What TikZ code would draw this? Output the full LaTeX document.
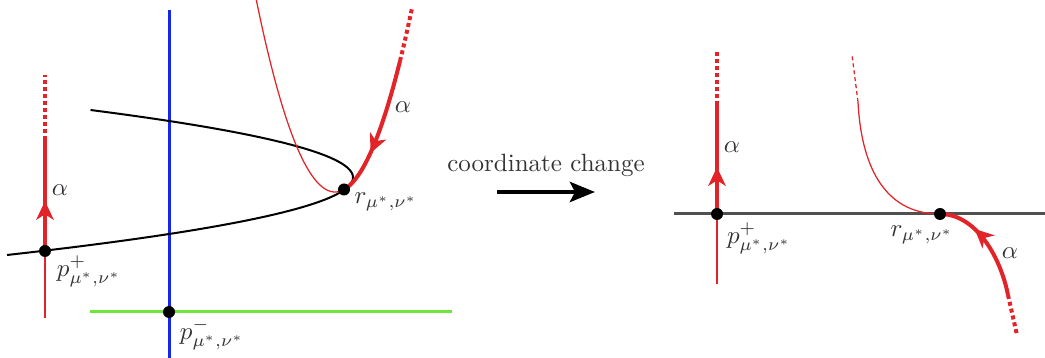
\documentclass[tikz,border=0pt]{standalone}
\usepackage{tikz}
\usetikzlibrary{arrows.meta,decorations.markings}
\definecolor{cred}{RGB}{226,36,40}
\definecolor{cblue}{RGB}{20,40,235}
\definecolor{cgreen}{RGB}{110,230,60}
\definecolor{caxis}{RGB}{80,80,80}
\tikzset{
  fixpt/.style={circle,fill=black,inner sep=0pt,minimum size=4.8pt},
  lbl/.style={inner sep=0pt,text=black!80},
  thinred/.style={draw=cred,line width=0.5pt},
  thickred/.style={draw=cred,line width=1.6pt},
  dotred/.style={draw=cred,line width=1.6pt,dash pattern=on 1.6pt off 1.2pt},
  dotthin/.style={draw=cred,line width=0.5pt,dash pattern=on 1.6pt off 1.2pt},
  midarr/.style={postaction={decorate},decoration={markings,
    mark=at position #1 with {\arrow{Stealth[length=7.5pt,width=7pt,inset=2.2pt]}}}},
}

\begin{document}
\begin{tikzpicture}[x=0.4pt,y=-0.4pt]
  \useasboundingbox (0,0) rectangle (1045,358);

  % before the change
  \coordinate (pm) at (169,312);
  \coordinate (pp) at (45,251);
  \coordinate (rl) at (344,189.5);
  \draw[cblue,line width=1.2pt] (169,10) -- (169,358);
  \draw[cgreen,line width=1.2pt] (90,312) -- (452,312);
  \draw[line width=0.8pt] plot[domain=-67.5:77.5,samples=80,variable=\t]
    ({353-0.0576*\t*\t},{177.5+\t});
  \draw[thinred] plot[domain=255:344,samples=50] (\x,{192-0.031*(\x-335)^2});
  \draw[thickred,midarr=0.68] plot[domain=400:344,samples=40] (\x,{192-0.031*(\x-335)^2});
  \draw[dotred] plot[domain=400:412,samples=10] (\x,{192-0.031*(\x-335)^2});

  \coordinate (ppbot) at (45,318);
  \coordinate (pptop) at (45,140);
  \coordinate (ppend) at (45,75);
  \draw[thinred] (ppbot) -- (pp);
  \draw[thickred,midarr=0.45] (pp) -- (pptop);
  \draw[dotred] (pptop) -- (ppend);

  \node[fixpt] (ppdot) at (pp) {};
  \node[fixpt] (pmdot) at (pm) {};
  \node[fixpt] (rldot) at (rl) {};
  \node[lbl] (pplbl) at (89,271) {$p^+_{\mu^*,\nu^*}$};
  \node[lbl] (pmlbl) at (212,334) {$p^-_{\mu^*,\nu^*}$};
  \node[lbl] (rllbl) at (386,202) {$r_{\mu^*,\nu^*}$};
  \node[lbl] (al1) at (60,190) {$\alpha$};
  \node[lbl] (al2) at (403,107) {$\alpha$};

  % the map
  \node[lbl] (cc) at (546,165) {coordinate change};
  \coordinate (ccl) at (497,192);
  \coordinate (ccr) at (595,192);
  \draw[-{Stealth[length=10pt,width=8pt,inset=2pt]},line width=1.8pt] (ccl) -- (ccr);

  % after the change
  \coordinate (qp) at (717,214);
  \coordinate (rr) at (940,214);
  \draw[caxis,line width=1.2pt] (674,214) -- (1045,214);

  \coordinate (qpbot) at (717,284);
  \coordinate (qptop) at (717,105);
  \coordinate (qpend) at (717,52);
  \draw[thinred] (qpbot) -- (qp);
  \draw[thickred,midarr=0.43] (qp) -- (qptop);
  \draw[dotred] (qptop) -- (qpend);

  \coordinate (rthin) at (858,102);
  \coordinate (rthinend) at (852,55);
  \draw[thinred] (rr) .. controls (882,214) and (861,162) .. (rthin);
  \draw[dotthin] (rthin) -- (rthinend);
  \coordinate (rbend) at (1008,295);
  \coordinate (rtail) at (1017,335);
  \draw[thickred,midarr=0.66] (rbend) .. controls (1000,255) and (975,214) .. (rr);
  \draw[dotred] (rbend) -- (rtail);

  \node[fixpt] (qpdot) at (qp) {};
  \node[fixpt] (rrdot) at (rr) {};
  \node[lbl] (qplbl) at (759,238) {$p^+_{\mu^*,\nu^*}$};
  \node[lbl] (rrlbl) at (922,235) {$r_{\mu^*,\nu^*}$};
  \node[lbl] (al3) at (732,147) {$\alpha$};
  \node[lbl] (al4) at (1010,253) {$\alpha$};
\end{tikzpicture}
\end{document}
